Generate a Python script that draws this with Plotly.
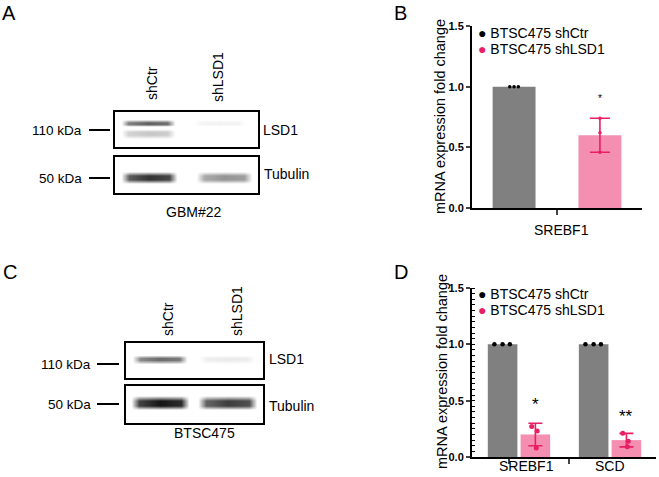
import plotly.graph_objects as go

W, H = 659, 477


def px(x):
    return x / W


def py(y):
    return 1 - y / H


FONT = "Liberation Sans, Arial, sans-serif"
GRAY = "#808080"
PINK_BAR = "#f48fb1"
PINK = "#e91e63"

# ---------------- data ----------------
b_groups = ["SREBF1"]
b_ctr_mean = [1.0]
b_lsd1_mean = [0.60]
b_lsd1_err = [0.14]
b_ctr_points = [[1.0, 1.0, 1.0]]
b_lsd1_points = [[0.46, 0.62, 0.74]]
b_sig = ["*"]
b_sig_y = [0.93]

d_groups = ["SREBF1", "SCD"]
d_ctr_mean = [1.0, 1.0]
d_lsd1_mean = [0.20, 0.15]
d_lsd1_err = [0.10, 0.06]
d_ctr_points = [[1.0, 1.0, 1.0], [1.0, 1.0, 1.0]]
d_lsd1_points = [[0.27, 0.23, 0.08], [0.21, 0.14, 0.09]]
d_sig = ["*", "**"]
d_sig_y = [0.51, 0.40]

y_ticks = [0.0, 0.5, 1.0, 1.5]

lanes = ["shCtr", "shLSD1"]
# western blot band intensities per lane (0 = no signal, 1 = black)
a_lsd1_upper = [0.62, 0.05]
a_lsd1_lower = [0.22, 0.0]
a_tubulin = [0.80, 0.42]
c_lsd1 = [0.58, 0.08]
c_tubulin = [0.92, 0.76]

# ---------------- figure ----------------
fig = go.Figure()

# ---- panel B (xaxis / yaxis) ----
b_w = 0.5
b_xc = list(range(len(b_groups)))
fig.add_trace(go.Bar(x=[0 + i for i in b_xc], y=b_ctr_mean, width=b_w,
                     marker=dict(color=GRAY, line=dict(width=0)),
                     xaxis="x", yaxis="y", showlegend=False))
fig.add_trace(go.Bar(x=[1 + i for i in b_xc], y=b_lsd1_mean, width=b_w,
                     marker=dict(color=PINK_BAR, line=dict(width=0)),
                     error_y=dict(type="data", array=b_lsd1_err, color=PINK,
                                  thickness=1.6, width=10),
                     xaxis="x", yaxis="y", showlegend=False))
b_jit = [-0.05, 0.0, 0.05]
for gi, pts in enumerate(b_ctr_points):
    fig.add_trace(go.Scatter(x=[gi + j for j in b_jit], y=pts, mode="markers",
                             marker=dict(color="black", size=3.5),
                             xaxis="x", yaxis="y", showlegend=False))
for gi, pts in enumerate(b_lsd1_points):
    fig.add_trace(go.Scatter(x=[gi + 1 for _ in pts], y=pts, mode="markers",
                             marker=dict(color=PINK, size=3.5),
                             xaxis="x", yaxis="y", showlegend=False))

# ---- panel D (xaxis2 / yaxis2) ----
d_off, d_w = 0.18, 0.325
d_xc = list(range(len(d_groups)))
fig.add_trace(go.Bar(x=[i - d_off for i in d_xc], y=d_ctr_mean, width=d_w,
                     marker=dict(color=GRAY, line=dict(width=0)),
                     xaxis="x2", yaxis="y2", showlegend=False))
fig.add_trace(go.Bar(x=[i + d_off for i in d_xc], y=d_lsd1_mean, width=d_w,
                     marker=dict(color=PINK_BAR, line=dict(width=0)),
                     error_y=dict(type="data", array=d_lsd1_err, color=PINK,
                                  thickness=1.6, width=7),
                     xaxis="x2", yaxis="y2", showlegend=False))
d_jit_ctr = [-0.09, 0.0, 0.08]
d_jit_lsd = [-0.04, 0.02, 0.01]
for gi, pts in enumerate(d_ctr_points):
    fig.add_trace(go.Scatter(x=[gi - d_off + j for j in d_jit_ctr], y=pts,
                             mode="markers", marker=dict(color="black", size=4.5),
                             xaxis="x2", yaxis="y2", showlegend=False))
for gi, pts in enumerate(d_lsd1_points):
    fig.add_trace(go.Scatter(x=[gi + d_off + j for j in d_jit_lsd], y=pts,
                             mode="markers", marker=dict(color=PINK, size=5),
                             xaxis="x2", yaxis="y2", showlegend=False))

# ---- western blots (xaxis3..6) ----
# box geometry in pixels: left, right, top, bottom
boxes = {
    "3": (115, 258, 112, 147),   # A LSD1
    "4": (115, 258, 157, 193),   # A Tubulin
    "5": (126, 263, 343, 378),   # C LSD1
    "6": (126, 263, 386, 423),   # C Tubulin
}
# bands: axis, lane spans (px), y centre (px), half thickness (px), intensities
bands = [
    ("3", [(121, 175), (193, 246)], 123, 3.5, a_lsd1_upper),
    ("3", [(121, 175), (193, 246)], 133.5, 5.0, a_lsd1_lower),
    ("4", [(121, 177), (196, 252)], 177.5, 6.0, a_tubulin),
    ("5", [(132, 187), (198, 255)], 359, 4.5, c_lsd1),
    ("6", [(131, 189), (198, 257)], 403, 7.0, c_tubulin),
]
profile = [0.0, 0.8, 1.0, 0.9, 0.0]
blot_scale = [[0, "rgba(0,0,0,0)"], [1, "rgba(0,0,0,1)"]]
for ax, spans, yc, hh, vals in bands:
    for (x0, x1), v in zip(spans, vals):
        w = x1 - x0
        xs = [x0, x0 + 0.14 * w, (x0 + x1) / 2, x1 - 0.14 * w, x1]
        ys = [yc - hh, yc - hh * 0.3, yc + hh * 0.3, yc + hh]
        row = [v * p for p in profile]
        z = [[0] * 5, row, row, [0] * 5]
        fig.add_trace(go.Heatmap(x=xs, y=ys, z=z, zmin=0, zmax=1,
                                 colorscale=blot_scale, zsmooth="best",
                                 showscale=False, hoverinfo="skip",
                                 xaxis="x" + ax, yaxis="y" + ax))

layout = dict(
    width=W, height=H, margin=dict(l=0, r=0, t=0, b=0, pad=0),
    autosize=False,
    paper_bgcolor="white", plot_bgcolor="rgba(0,0,0,0)",
    font=dict(family=FONT, color="black"),
    showlegend=False, barmode="overlay",
)

tickfont_y = dict(family=FONT, size=11, color="black", weight="bold")
layout["xaxis"] = dict(domain=[px(472), px(642)], range=[-0.49, 1.49],
                       tickvals=[0.5], showticklabels=False, ticks="outside",
                       ticklen=5, tickwidth=2, showline=True, linewidth=2,
                       linecolor="black", showgrid=False, zeroline=False,
                       anchor="y", automargin=False)
layout["yaxis"] = dict(domain=[py(208), py(26)], range=[0, 1.5],
                       tickvals=y_ticks, tickformat=".1f", ticks="outside",
                       ticklen=4, tickwidth=2, tickfont=tickfont_y,
                       showline=True, linewidth=2, linecolor="black",
                       showgrid=False, zeroline=False, anchor="x",
                       automargin=False)
layout["xaxis2"] = dict(domain=[px(472), px(656)], range=[-0.516, 1.505],
                        tickvals=[-0.11, 0.55], showticklabels=False,
                        ticks="outside", ticklen=5, tickwidth=2,
                        showline=True, linewidth=2, linecolor="black",
                        showgrid=False, zeroline=False, anchor="y2",
                        automargin=False)
layout["yaxis2"] = dict(domain=[py(457), py(288)], range=[0, 1.5],
                        tickvals=y_ticks, tickformat=".1f", ticks="outside",
                        ticklen=4, tickwidth=2, tickfont=tickfont_y,
                        minor=dict(dtick=0.05, ticks="inside", ticklen=3,
                                   tickwidth=1, tickcolor="black"),
                        showline=True, linewidth=2, linecolor="black",
                        showgrid=False, zeroline=False, anchor="x2",
                        automargin=False)
for ax, (l, r, t, b) in boxes.items():
    layout["xaxis" + ax] = dict(domain=[px(l), px(r)], range=[l, r],
                                showline=True, mirror=True, linewidth=2,
                                linecolor="black", showgrid=False,
                                zeroline=False, ticks="", showticklabels=False,
                                anchor="y" + ax, automargin=False)
    layout["yaxis" + ax] = dict(domain=[py(b), py(t)], range=[b, t],
                                showline=True, mirror=True, linewidth=2,
                                linecolor="black", showgrid=False,
                                zeroline=False, ticks="", showticklabels=False,
                                anchor="x" + ax, automargin=False)

fig.update_layout(**layout)

ann = []


def text(x, y, s, size=14, xanchor="center", yanchor="middle", angle=0, **kw):
    ann.append(dict(x=px(x), y=py(y), xref="paper", yref="paper", text=s,
                    showarrow=False, xanchor=xanchor, yanchor=yanchor,
                    textangle=angle, font=dict(family=FONT, size=size,
                                               color="black"), **kw))


# panel letters
text(0, 0, "A", size=20, xanchor="left", yanchor="top")
text(392, 0.5, "B", size=20, xanchor="left", yanchor="top")
text(1, 259, "C", size=20, xanchor="left", yanchor="top")
text(392, 259, "D", size=20, xanchor="left", yanchor="top")

# blot A labels
text(152, 83, lanes[0], size=14, angle=-90)
text(218, 77, lanes[1], size=14, angle=-90)
text(84, 130, "110 kDa", size=13.5, xanchor="right")
text(84, 178, "50 kDa", size=13.5, xanchor="right")
text(261, 130, "LSD1", size=14, xanchor="left")
text(262, 174, "Tubulin", size=14, xanchor="left")
text(193, 212, "GBM#22", size=14)

# blot C labels
text(168, 319, lanes[0], size=14, angle=-90)
text(237, 311, lanes[1], size=14, angle=-90)
text(93, 364, "110 kDa", size=13.5, xanchor="right")
text(93, 404, "50 kDa", size=13.5, xanchor="right")
text(267, 359, "LSD1", size=14, xanchor="left")
text(267, 406, "Tubulin", size=14, xanchor="left")
text(204, 433, "BTSC475", size=14)

# y titles
text(440, 117, "mRNA expression fold change", size=14.5, angle=-90)
text(442, 372, "mRNA expression fold change", size=14.5, angle=-90)

# legends
for (y1, y2) in [(33, 49), (294, 310)]:
    text(476, y1, '<span style="color:black">●</span> BTSC475 shCtr',
         size=14, xanchor="left")
    text(476, y2, '<span style="color:%s">●</span> BTSC475 shLSD1' % PINK,
         size=14, xanchor="left")

# x category labels
for gi, g in enumerate(b_groups):
    ann.append(dict(x=gi + 0.55, y=py(230), xref="x", yref="paper", text=g,
                    showarrow=False,
                    font=dict(family=FONT, size=14, color="black")))
d_lab_shift = [8, 0]
for gi, g in enumerate(d_groups):
    ann.append(dict(x=gi, y=py(476), xref="x2", yref="paper", text=g,
                    xshift=d_lab_shift[gi], yanchor="bottom", showarrow=False,
                    font=dict(family=FONT, size=14, color="black")))

# significance stars
for gi, (s, yv) in enumerate(zip(b_sig, b_sig_y)):
    ann.append(dict(x=gi + 1, y=yv, xref="x", yref="y", text=s, yshift=-3,
                    showarrow=False,
                    font=dict(family=FONT, size=10, color="black")))
for gi, (s, yv) in enumerate(zip(d_sig, d_sig_y)):
    ann.append(dict(x=gi + d_off, y=yv, xref="x2", yref="y2", text=s,
                    yshift=-5, showarrow=False,
                    font=dict(family=FONT, size=17, color="black")))

# kDa marker lines
shapes = []
for (x0, x1, y) in [(89, 110, 130), (89, 110, 178), (97, 119, 364), (97, 119, 404)]:
    shapes.append(dict(type="line", xref="paper", yref="paper",
                       x0=px(x0), x1=px(x1), y0=py(y), y1=py(y),
                       line=dict(color="black", width=2)))

fig.update_layout(annotations=ann, shapes=shapes)
fig.write_html(
    "out.html", config={"displayModeBar": False},
    default_width="659px", default_height="477px",
    post_script=(
        "document.documentElement.style.margin='0';"
        "document.documentElement.style.overflow='hidden';"
        "document.body.style.margin='0';"
        "document.body.style.overflow='hidden';"
    ),
)
